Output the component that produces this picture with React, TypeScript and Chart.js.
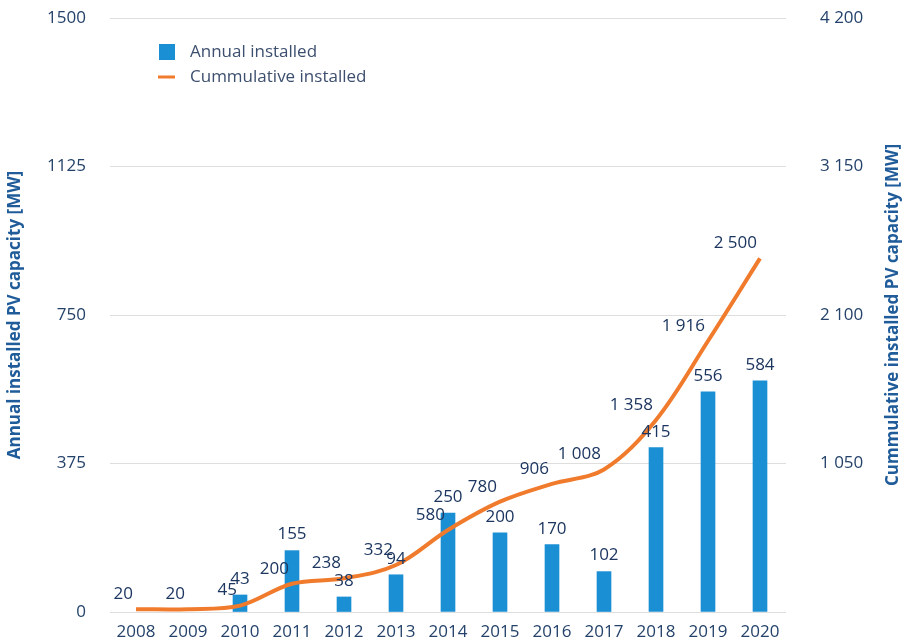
import React, { useEffect, useRef } from 'react';
import { Chart, registerables } from 'chart.js';

Chart.register(...registerables);

const years = ['2008', '2009', '2010', '2011', '2012', '2013', '2014', '2015', '2016', '2017', '2018', '2019', '2020'];
const annualInstalled: (number | null)[] = [null, null, 43, 155, 38, 94, 250, 200, 170, 102, 415, 556, 584];
const cumulativeInstalled = [20, 20, 45, 200, 238, 332, 580, 780, 906, 1008, 1358, 1916, 2500];
const leftTickValues = [0, 375, 750, 1125, 1500];
const rightTickValues = [1050, 2100, 3150, 4200];

const legendLabels = ['Annual installed', 'Cummulative installed'];
const leftAxisTitle = 'Annual installed PV capacity [MW]';
const rightAxisTitle = 'Cummulative installed PV capacity [MW]';

const FONT = '"Open Sans", sans-serif';
const BLUE = '#1b8fd3';
const ORANGE = '#f07b2c';
const LABEL = '#1c3660';
const TICK = '#24426a';
const TITLE = '#1f5c99';
const LEGEND = '#3d4f6e';

function fmt(n: number): string {
  if (n >= 1000) return Math.floor(n / 1000) + ' ' + String(n % 1000).padStart(3, '0');
  return String(n);
}

const overlay = {
  id: 'overlay',
  afterDatasetsDraw(chart: any) {
    const ctx = chart.ctx as CanvasRenderingContext2D;
    ctx.save();
    ctx.font = `17px ${FONT}`;
    ctx.fillStyle = LABEL;
    ctx.textBaseline = 'middle';
    ctx.textAlign = 'center';
    const barMeta = chart.getDatasetMeta(0);
    barMeta.data.forEach((el: any, i: number) => {
      const v = annualInstalled[i];
      if (v == null) return;
      ctx.fillText(fmt(v), el.x, el.y - 16);
    });
    const lineMeta = chart.getDatasetMeta(1);
    ctx.textAlign = 'right';
    lineMeta.data.forEach((el: any, i: number) => {
      ctx.fillText(fmt(cumulativeInstalled[i]), el.x - 3, el.y - 15);
    });
    ctx.restore();
  },
  afterDraw(chart: any) {
    const ctx = chart.ctx as CanvasRenderingContext2D;
    const area = chart.chartArea;
    ctx.save();
    ctx.fillStyle = BLUE;
    ctx.fillRect(159, 44, 16, 16);
    ctx.strokeStyle = ORANGE;
    ctx.lineWidth = 3;
    ctx.beginPath();
    ctx.moveTo(158, 77);
    ctx.lineTo(175, 77);
    ctx.stroke();
    ctx.font = `17px ${FONT}`;
    ctx.fillStyle = LEGEND;
    ctx.textAlign = 'left';
    ctx.textBaseline = 'middle';
    ctx.fillText(legendLabels[0], 190, 52);
    ctx.fillText(legendLabels[1], 190, 77);
    const cy = (area.top + area.bottom) / 2;
    ctx.font = `bold 17px ${FONT}`;
    ctx.fillStyle = TITLE;
    ctx.textAlign = 'center';
    ctx.save();
    ctx.translate(15, cy);
    ctx.rotate(-Math.PI / 2);
    ctx.fillText(leftAxisTitle, 0, 0);
    ctx.restore();
    ctx.save();
    ctx.translate(893, cy);
    ctx.rotate(-Math.PI / 2);
    ctx.fillText(rightAxisTitle, 0, 0);
    ctx.restore();
    ctx.restore();
  },
};

export default function App() {
  const ref = useRef<HTMLCanvasElement | null>(null);
  useEffect(() => {
    if (!ref.current) return;
    const chart = new Chart(ref.current, {
      type: 'bar',
      data: {
        labels: years,
        datasets: [
          {
            type: 'bar',
            label: legendLabels[0],
            data: annualInstalled as any,
            backgroundColor: BLUE,
            barThickness: 14,
            yAxisID: 'y',
            order: 1,
          },
          {
            type: 'line',
            label: legendLabels[1],
            data: cumulativeInstalled,
            borderColor: ORANGE,
            borderWidth: 4,
            pointRadius: 0,
            tension: 0.35,
            fill: false,
            yAxisID: 'y1',
            order: 0,
          } as any,
        ],
      },
      options: {
        responsive: false,
        animation: false,
        layout: { padding: { top: 18, left: 0, right: 0, bottom: 0 } },
        plugins: { legend: { display: false }, tooltip: { enabled: false } },
        scales: {
          x: {
            grid: { display: false, drawTicks: false },
            border: { display: false },
            ticks: { font: { family: FONT, size: 17 }, color: TICK, padding: 10, maxRotation: 0, autoSkip: false },
            afterFit(s: any) { s.height = 32; },
          },
          y: {
            position: 'left',
            min: 0,
            max: 1500,
            afterBuildTicks(s: any) { s.ticks = leftTickValues.map((v) => ({ value: v })); },
            grid: { color: '#dedede', drawTicks: false },
            border: { display: false },
            ticks: { font: { family: FONT, size: 17 }, color: TICK, padding: 24, callback: (v: any) => String(v) },
            afterFit(s: any) { s.width = 110; s.paddingTop = 0; s.paddingBottom = 0; },
          },
          y1: {
            position: 'right',
            min: 0,
            max: 4200,
            afterBuildTicks(s: any) { s.ticks = rightTickValues.map((v) => ({ value: v })); },
            grid: { display: false, drawTicks: false },
            border: { display: false },
            ticks: { font: { family: FONT, size: 17 }, color: TICK, padding: 34, callback: (v: any) => fmt(Number(v)) },
            afterFit(s: any) { s.width = 117; s.paddingTop = 0; s.paddingBottom = 0; },
          },
        },
      } as any,
      plugins: [overlay],
    });
    return () => chart.destroy();
  }, []);
  return (
    <canvas
      ref={ref}
      width={903}
      height={644}
      style={{ position: 'fixed', left: 0, top: 0, width: 903, height: 644, background: '#fff' }}
    />
  );
}
